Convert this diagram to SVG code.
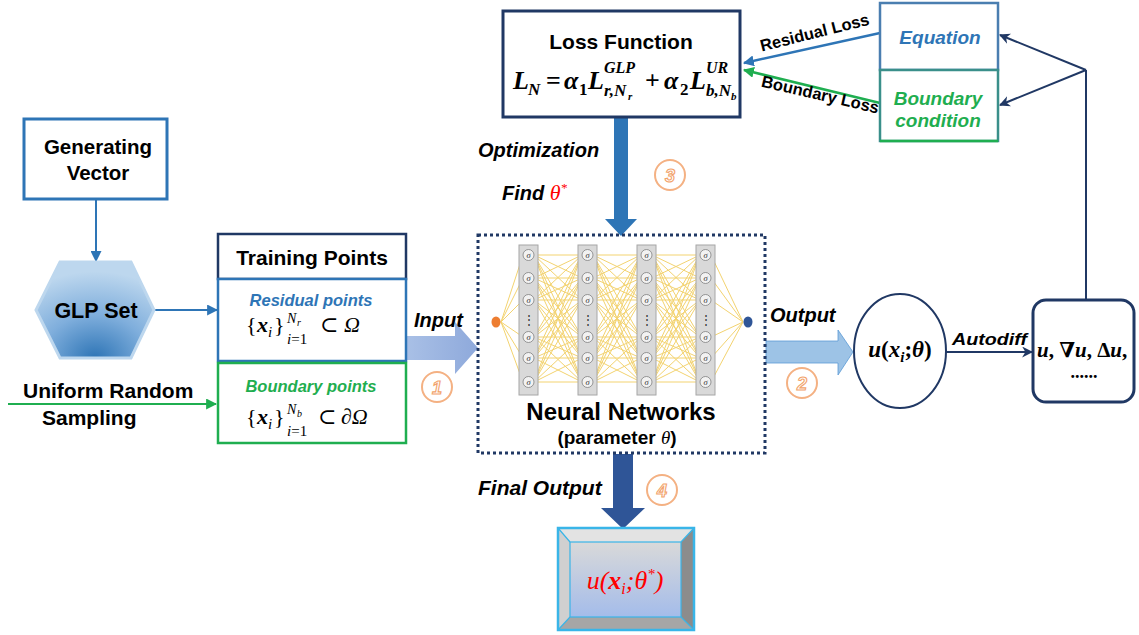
<svg xmlns="http://www.w3.org/2000/svg" width="1139" height="635" viewBox="0 0 1139 635">
<style>
.lbl{font-family:"Liberation Sans",Arial,sans-serif;font-weight:bold;fill:#000}
.it{font-style:italic}
.m{font-family:"Liberation Serif","DejaVu Serif",serif;font-weight:bold;font-style:italic;fill:#000}
.up{font-style:normal}
.num{font-family:"Liberation Sans",Arial,sans-serif;font-weight:bold;font-style:italic;font-size:18px;fill:#fff;stroke:#F2A36B;stroke-width:1.1;text-anchor:middle}
.numc{fill:none;stroke:#F4B183;stroke-width:2}
</style>
<defs>
<marker id="aBlue" viewBox="0 0 10 10" refX="9" refY="5" markerWidth="11" markerHeight="11" markerUnits="userSpaceOnUse" orient="auto"><path d="M0,0 L10,5 L0,10 z" fill="#2E75B6"/></marker>
<marker id="aGreen" viewBox="0 0 10 10" refX="9" refY="5" markerWidth="11" markerHeight="11" markerUnits="userSpaceOnUse" orient="auto"><path d="M0,0 L10,5 L0,10 z" fill="#1FAE50"/></marker>
<marker id="aNavy" viewBox="0 0 10 10" refX="9" refY="5" markerWidth="11" markerHeight="11" markerUnits="userSpaceOnUse" orient="auto"><path d="M0,0 L10,5 L0,10 L3,5 z" fill="#203864"/></marker>
<radialGradient id="hexG" cx="0.5" cy="1" r="0.9"><stop offset="0" stop-color="#2E75B6"/><stop offset="0.5" stop-color="#7FAEDC"/><stop offset="1" stop-color="#BDD7EE"/></radialGradient>
<linearGradient id="inG" x1="0" y1="0" x2="1" y2="0"><stop offset="0" stop-color="#A9C0E6"/><stop offset="1" stop-color="#8EA9DB"/></linearGradient>
<linearGradient id="finG" x1="0" y1="0" x2="0" y2="1"><stop offset="0" stop-color="#D9D9D9"/><stop offset="1" stop-color="#A4BCEA"/></linearGradient>
<path id="conn" d="M534 255L582 255M534 255L582 278M534 255L582 300M534 255L582 337M534 255L582 358M534 255L582 382M534 278L582 255M534 278L582 278M534 278L582 300M534 278L582 337M534 278L582 358M534 278L582 382M534 300L582 255M534 300L582 278M534 300L582 300M534 300L582 337M534 300L582 358M534 300L582 382M534 337L582 255M534 337L582 278M534 337L582 300M534 337L582 337M534 337L582 358M534 337L582 382M534 358L582 255M534 358L582 278M534 358L582 300M534 358L582 337M534 358L582 358M534 358L582 382M534 382L582 255M534 382L582 278M534 382L582 300M534 382L582 337M534 382L582 358M534 382L582 382" fill="none" stroke="#F3D370" stroke-width="1"/>
<g id="nd"><circle cx="0" cy="0" r="5.5" fill="#F2F2F2" stroke="#7F7F7F" stroke-width="0.8"/><text x="0" y="3" font-family="Liberation Serif,serif" font-style="italic" font-size="8.5" text-anchor="middle" fill="#333">σ</text></g>
<g id="col"><rect x="-9.5" y="245" width="19" height="150" fill="#D9D9D9" stroke="#A6A6A6" stroke-width="1"/><use href="#nd" y="255"/><use href="#nd" y="278"/><use href="#nd" y="300"/><text x="0" y="324" font-family="Liberation Sans,sans-serif" font-size="12" text-anchor="middle" fill="#333">⋮</text><use href="#nd" y="337"/><use href="#nd" y="358"/><use href="#nd" y="382"/></g>
</defs>
<rect width="1139" height="635" fill="#fff"/>

<g id="connectors">
<line x1="96" y1="200" x2="96" y2="261" stroke="#2E75B6" stroke-width="2" marker-end="url(#aBlue)"/>
<line x1="154" y1="310" x2="217" y2="310" stroke="#2E75B6" stroke-width="2" marker-end="url(#aBlue)"/>
<line x1="8" y1="404" x2="216" y2="404" stroke="#1FAE50" stroke-width="2" marker-end="url(#aGreen)"/>
<polygon points="406,336 455,336 455,322 478,348 455,374 455,360 406,360" fill="url(#inG)"/>
<polygon points="766,341 838,341 838,330 853,352 838,375 838,363 766,363" fill="#9DC3E6" stroke="#5B9BD5" stroke-width="0.8"/>
<polygon points="614,118 628,118 628,219 637,219 621,236 605,219 614,219" fill="#2E75B6"/>
<polygon points="613,454 633,454 633,508 645,508 623,529 601,508 613,508" fill="#2F5597"/>
<line x1="946" y1="352" x2="1032" y2="352" stroke="#203864" stroke-width="2" marker-end="url(#aNavy)"/>
<path d="M1086 300 V70" fill="none" stroke="#203864" stroke-width="2"/>
<line x1="1086" y1="70" x2="1000" y2="35" stroke="#203864" stroke-width="2" marker-end="url(#aNavy)"/>
<line x1="1086" y1="70" x2="1000" y2="105" stroke="#203864" stroke-width="2" marker-end="url(#aNavy)"/>
<line x1="880" y1="33" x2="744" y2="63" stroke="#2E75B6" stroke-width="2.5" marker-end="url(#aBlue)"/>
<line x1="880" y1="103" x2="744" y2="70" stroke="#1FAE50" stroke-width="2.5" marker-end="url(#aGreen)"/>
<text class="lbl" font-size="16.5" text-anchor="middle" transform="translate(816,38) rotate(-14)">Residual Loss</text>
<text class="lbl" font-size="16.5" text-anchor="middle" transform="translate(819,100) rotate(13)">Boundary Loss</text>
<text class="lbl it" x="414" y="327" font-size="20">Input</text>
<text class="lbl it" x="770" y="322" font-size="20">Output</text>
<text class="lbl it" x="952" y="345" font-size="16" textLength="75" lengthAdjust="spacingAndGlyphs">Autodiff</text>
<text class="lbl it" x="478" y="157" font-size="20">Optimization</text>
<text class="lbl it" x="502" y="200" font-size="20">Find <tspan class="m" style="fill:#FF0000;font-weight:normal" font-size="22">θ<tspan dy="-8" font-size="13">*</tspan></tspan></text>
<text class="lbl it" x="478" y="495" font-size="21">Final Output</text>
<circle class="numc" cx="437" cy="387" r="15"/><text class="num" x="437" y="394">1</text>
<circle class="numc" cx="802" cy="383" r="15"/><text class="num" x="802" y="390">2</text>
<circle class="numc" cx="670" cy="175" r="15"/><text class="num" x="670" y="182">3</text>
<circle class="numc" cx="662" cy="490" r="15"/><text class="num" x="662" y="497">4</text>
</g>

<g id="loss-function">
<rect x="503" y="11" width="237" height="106" fill="#fff" stroke="#203864" stroke-width="3"/>
<text class="lbl" x="621" y="49" font-size="21" text-anchor="middle">Loss Function</text>
<text class="m" x="513" y="89" font-size="26">L</text>
<text class="m" x="528" y="95" font-size="17">N</text>
<text class="m up" x="546" y="89" font-size="26">=</text>
<text class="m" x="564" y="89" font-size="26">α</text>
<text class="m up" x="579" y="95" font-size="17">1</text>
<text class="m" x="588" y="89" font-size="26">L</text>
<text class="m" x="604" y="73" font-size="16">GLP</text>
<text class="m" x="604" y="96" font-size="17">r,N</text>
<text class="m" x="628" y="100" font-size="11">r</text>
<text class="m up" x="645" y="89" font-size="26">+</text>
<text class="m" x="664" y="89" font-size="26">α</text>
<text class="m up" x="680" y="95" font-size="17">2</text>
<text class="m" x="690" y="89" font-size="26">L</text>
<text class="m" x="706" y="73" font-size="16">UR</text>
<text class="m" x="706" y="96" font-size="17">b,N</text>
<text class="m" x="731" y="100" font-size="11">b</text>
</g>

<g id="equation">
<rect x="880" y="3" width="118" height="67" fill="#fff" stroke="#4A7EB0" stroke-width="2.5"/>
<text class="lbl it" x="940" y="44" font-size="19" text-anchor="middle" style="fill:#2E75B6">Equation</text>
</g>
<g id="boundary-condition">
<rect x="880" y="70" width="118" height="71" fill="#fff" stroke="#3A8F8A" stroke-width="2.5"/>
<line x1="880" y1="141" x2="998" y2="141" stroke="#1FAE50" stroke-width="2.5"/>
<text class="lbl it" x="938" y="105" font-size="19" text-anchor="middle" style="fill:#1FAE50">Boundary</text>
<text class="lbl it" x="938" y="127" font-size="19" text-anchor="middle" style="fill:#1FAE50">condition</text>
</g>

<g id="generating-vector">
<rect x="24" y="119" width="143" height="80" fill="#fff" stroke="#2E75B6" stroke-width="3"/>
<text class="lbl" x="98" y="154" font-size="20.5" text-anchor="middle">Generating</text>
<text class="lbl" x="98" y="180" font-size="20.5" text-anchor="middle">Vector</text>
</g>

<g id="glp-set">
<polygon points="60,262 131,262 154,310 131,358 60,358 36,310" fill="url(#hexG)" stroke="#BDD7EE" stroke-width="3"/>
<text class="lbl" x="96" y="318" font-size="21.5" text-anchor="middle">GLP Set</text>
</g>

<g id="uniform-random-sampling">
<text class="lbl" x="23" y="398" font-size="21">Uniform Random</text>
<text class="lbl" x="42" y="425" font-size="21">Sampling</text>
</g>

<g id="training-points">
<rect x="218" y="234" width="188" height="45" fill="#fff" stroke="#203864" stroke-width="2.5"/>
<text class="lbl" x="312" y="265" font-size="21" text-anchor="middle">Training Points</text>
</g>
<g id="residual-points">
<rect x="218" y="279" width="188" height="82" fill="#fff" stroke="#2E75B6" stroke-width="2.5"/>
<text class="lbl it" x="311" y="306" font-size="16.5" text-anchor="middle" style="fill:#2E75B6">Residual points</text>
<text class="m up" x="246" y="332" font-size="22" style="font-weight:normal">{</text>
<text class="m" x="257" y="332" font-size="22">x</text>
<text class="m" x="268" y="337" font-size="15" style="font-weight:normal">i</text>
<text class="m up" x="274" y="332" font-size="22" style="font-weight:normal">}</text>
<text class="m" x="287" y="323" font-size="14" style="font-weight:normal">N</text>
<text class="m" x="297" y="326" font-size="10" style="font-weight:normal">r</text>
<text class="m" x="287" y="344" font-size="15" style="font-weight:normal">i<tspan class="up">=1</tspan></text>
<text class="m up" x="320" y="332" font-size="22" style="font-weight:normal">⊂</text>
<text class="m" x="344" y="332" font-size="22" style="font-weight:normal">Ω</text>
</g>
<g id="boundary-points">
<rect x="218" y="363" width="188" height="80" fill="#fff" stroke="#1FAE50" stroke-width="2.5"/>
<text class="lbl it" x="311" y="392" font-size="16.5" text-anchor="middle" style="fill:#1FAE50">Boundary points</text>
<text class="m up" x="246" y="424" font-size="22" style="font-weight:normal">{</text>
<text class="m" x="257" y="424" font-size="22">x</text>
<text class="m" x="268" y="429" font-size="15" style="font-weight:normal">i</text>
<text class="m up" x="274" y="424" font-size="22" style="font-weight:normal">}</text>
<text class="m" x="287" y="414" font-size="14" style="font-weight:normal">N</text>
<text class="m" x="297" y="417" font-size="10" style="font-weight:normal">b</text>
<text class="m" x="287" y="436" font-size="15" style="font-weight:normal">i<tspan class="up">=1</tspan></text>
<text class="m up" x="318" y="424" font-size="22" style="font-weight:normal">⊂</text>
<text class="m" x="341" y="424" font-size="22" style="font-weight:normal">∂Ω</text>
</g>

<g id="neural-networks">
<rect x="478" y="235" width="287" height="218" fill="none" stroke="#203864" stroke-width="3" stroke-dasharray="3 3"/>
<path d="M501 322L523 255M501 322L523 278M501 322L523 300M501 322L523 337M501 322L523 358M501 322L523 382M711 255L743 322M711 278L743 322M711 300L743 322M711 337L743 322M711 358L743 322M711 382L743 322" fill="none" stroke="#F3D370" stroke-width="1"/>
<use href="#conn"/>
<use href="#conn" x="59"/>
<use href="#conn" x="118"/>
<use href="#col" x="528.5"/>
<use href="#col" x="587.5"/>
<use href="#col" x="646.5"/>
<use href="#col" x="705.5"/>
<ellipse cx="496" cy="322" rx="4.5" ry="5.5" fill="#ED7D31"/>
<ellipse cx="748" cy="322" rx="4.5" ry="5.5" fill="#2F5597"/>
<text class="lbl" x="621" y="420" font-size="24" text-anchor="middle">Neural Networks</text>
<text class="lbl" x="617" y="444" font-size="19" text-anchor="middle">(parameter <tspan font-family="Liberation Serif,serif" font-style="italic" font-weight="normal">θ</tspan>)</text>
</g>

<g id="u-theta">
<ellipse cx="900" cy="351" rx="46" ry="57" fill="#fff" stroke="#203864" stroke-width="2"/>
<text class="m" x="900" y="357" font-size="23" text-anchor="middle">u<tspan class="up">(</tspan>x<tspan dy="5" font-size="15">i</tspan><tspan dy="-5" class="up">;</tspan>θ<tspan class="up">)</tspan></text>
</g>

<g id="derivatives">
<rect x="1033" y="300" width="101" height="102" rx="13" fill="#fff" stroke="#203864" stroke-width="3"/>
<text class="m" x="1037" y="357" font-size="21">u<tspan class="up">, ∇</tspan>u<tspan class="up">, Δ</tspan>u<tspan class="up">,</tspan></text>
<text class="m up" x="1084" y="378" font-size="18" text-anchor="middle">......</text>
</g>

<g id="final-output">
<polygon points="558,528 694,528 681,542 570,542" fill="#E3E3E3"/>
<polygon points="558,528 570,542 570,617 558,630" fill="#D0D0D0"/>
<polygon points="694,528 694,630 681,617 681,542" fill="#8C8C8C"/>
<polygon points="558,630 694,630 681,617 570,617" fill="#A6A6A6"/>
<rect x="570" y="542" width="111" height="75" fill="url(#finG)"/>
<path d="M558 528L570 542M694 528L681 542M558 630L570 617M694 630L681 617" stroke="#39B5E8" stroke-width="1.2"/>
<rect x="570" y="542" width="111" height="75" fill="none" stroke="#39B5E8" stroke-width="1.2"/>
<rect x="558" y="528" width="136" height="102" fill="none" stroke="#39B5E8" stroke-width="2.5"/>
<text x="625" y="589" font-family="Liberation Serif,serif" font-style="italic" font-size="26" text-anchor="middle" fill="#FF0000">u(<tspan font-weight="bold">x</tspan><tspan dy="5" font-size="16">i</tspan><tspan dy="-5">;θ</tspan><tspan dy="-10" font-size="15">*</tspan><tspan dy="10">)</tspan></text>
</g>
</svg>
